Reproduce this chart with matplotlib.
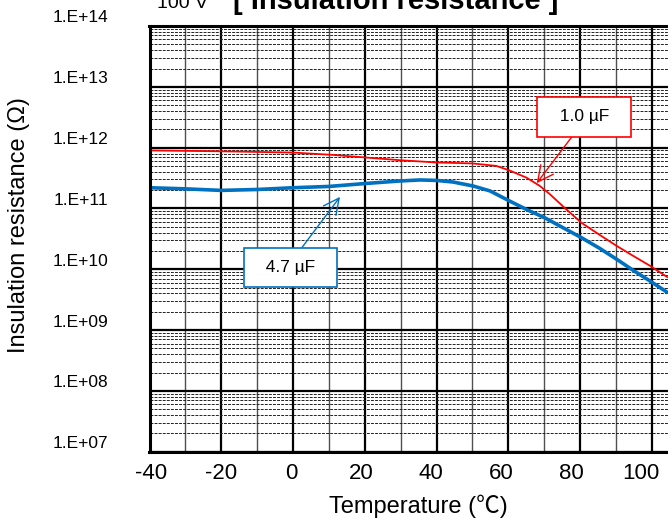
import matplotlib
matplotlib.use("Agg")
import matplotlib.pyplot as plt
import matplotlib.transforms as mtransforms
import numpy as np
from matplotlib.ticker import FixedLocator, LogLocator, NullFormatter

plt.rcParams["font.family"] = ["Liberation Sans", "Noto Sans CJK JP"]

# readings from the reference chart
temps_1uF = [-40, -20, 0, 11, 30, 40, 50, 56.7, 60.4, 65.1, 68.8, 71.6, 76.2, 80.4,
             85.5, 90.2, 94.8, 99.5, 104.5]
ir_1uF = [9.0e11, 8.7e11, 8.3e11, 7.6e11, 6.2e11, 5.7e11, 5.5e11, 5.0e11, 4.2e11, 3.2e11,
          2.34e11, 1.71e11, 9.6e10, 5.8e10, 3.66e10, 2.42e10, 1.66e10, 1.14e10, 7.3e9]

temps_47uF = [-40, -30, -20, -10, 0, 10, 20.5, 29.8, 35.4, 40, 44.6, 50.2, 54.9, 60.4,
              65.1, 70.2, 75.3, 80.4, 85.5, 90.2, 94.8, 99.5, 104.5]
ir_47uF = [2.19e11, 2.1e11, 1.98e11, 2.05e11, 2.19e11, 2.3e11, 2.58e11, 2.83e11, 2.94e11,
           2.89e11, 2.72e11, 2.34e11, 1.94e11, 1.32e11, 9.6e10, 7.0e10, 4.8e10, 3.3e10,
           2.2e10, 1.46e10, 9.6e9, 6.4e9, 4.1e9]

x_ticks = [-40, -20, 0, 20, 40, 60, 80, 100]
y_exponents = [7, 8, 9, 10, 11, 12, 13, 14]
y_tick_labels = ["1.E+07", "1.E+08", "1.E+09", "1.E+10", "1.E+11", "1.E+12", "1.E+13", "1.E+14"]

W, H = 668, 524
fig = plt.figure(figsize=(W / 100, H / 100), dpi=100)
left, right, top, bottom = 149.5, 668, 26, 451.7
ax = fig.add_axes([left / W, (H - bottom) / H, (right - left) / W, (bottom - top) / H])

ax.set_yscale("log")
ax.set_xlim(-40, 104.5)
ax.set_ylim(1e7, 1e14)

ax.xaxis.set_major_locator(FixedLocator(x_ticks))
ax.xaxis.set_minor_locator(FixedLocator([t + 10 for t in x_ticks]))
ax.yaxis.set_major_locator(FixedLocator([10.0 ** e for e in y_exponents]))
ax.yaxis.set_minor_locator(LogLocator(base=10, subs=np.arange(2, 10), numticks=50))
ax.yaxis.set_minor_formatter(NullFormatter())

ax.set_axisbelow(True)
ax.grid(which="major", color="black", lw=1.6)
ax.xaxis.grid(which="minor", color="#505050", lw=1.0)
ax.yaxis.grid(which="minor", color="#222222", lw=0.7, ls=(0, (3, 1.2)))

ax.tick_params(which="both", length=0, labelbottom=False, labelleft=False)

for side in ["left", "top", "bottom"]:
    ax.spines[side].set_linewidth(2.2)
ax.spines["right"].set_visible(False)

# tick labels in the original are placed a bit off their grid lines
for e, lab in zip(y_exponents, y_tick_labels):
    shift = mtransforms.ScaledTranslation(-41.5 / 100, 8 / 100, fig.dpi_scale_trans)
    ax.text(0, 10.0 ** e, lab, transform=ax.get_yaxis_transform() + shift,
            ha="right", va="center", fontsize=12.5)
for t in x_ticks:
    dx = -(t + 20) * 0.089
    shift = mtransforms.ScaledTranslation(dx / 100, -11 / 100, fig.dpi_scale_trans)
    ax.text(t, 0, str(t), transform=ax.get_xaxis_transform() + shift,
            ha="center", va="top", fontsize=16)

ax.plot(temps_47uF, ir_47uF, color="#0070C0", lw=2.6, solid_capstyle="butt")
ax.plot(temps_1uF, ir_1uF, color="#FF0000", lw=1.3, solid_capstyle="butt")

ax.annotate("  1.0 µF  ", xy=(67.9, 2.6e11), xytext=(81.1, 3.2e12),
            ha="center", va="center", fontsize=12.5,
            bbox=dict(boxstyle="square,pad=0.7", fc="white", ec="#FF0000", lw=1.2),
            arrowprops=dict(arrowstyle="->,head_length=0.9,head_width=0.45", color="#FF0000",
                            lw=1.0, relpos=(0.46, 0), shrinkA=0, shrinkB=0))
ax.annotate("  4.7 µF  ", xy=(13.1, 1.55e11), xytext=(-0.6, 1.07e10),
            ha="center", va="center", fontsize=12.5,
            bbox=dict(boxstyle="square,pad=0.7", fc="white", ec="#0070C0", lw=1.2),
            arrowprops=dict(arrowstyle="->,head_length=0.9,head_width=0.45", color="#0070C0",
                            lw=1.0, relpos=(0.525, 1), shrinkA=0, shrinkB=0))

fig.text(19 / W, 1 - 225 / H, "Insulation resistance (Ω)", rotation=90,
         ha="center", va="center", fontsize=17)
fig.text(418 / W, 1 - 506 / H, "Temperature (℃)", ha="center", va="center", fontsize=17)
fig.text(157 / W, 1 - 8 / H, "100 V", ha="left", va="baseline", fontsize=14)
fig.text(233 / W, 1 - 9 / H, "[ Insulation resistance ]", ha="left", va="baseline",
         fontsize=21, fontweight="bold")

fig.savefig("out.png", dpi=100)
